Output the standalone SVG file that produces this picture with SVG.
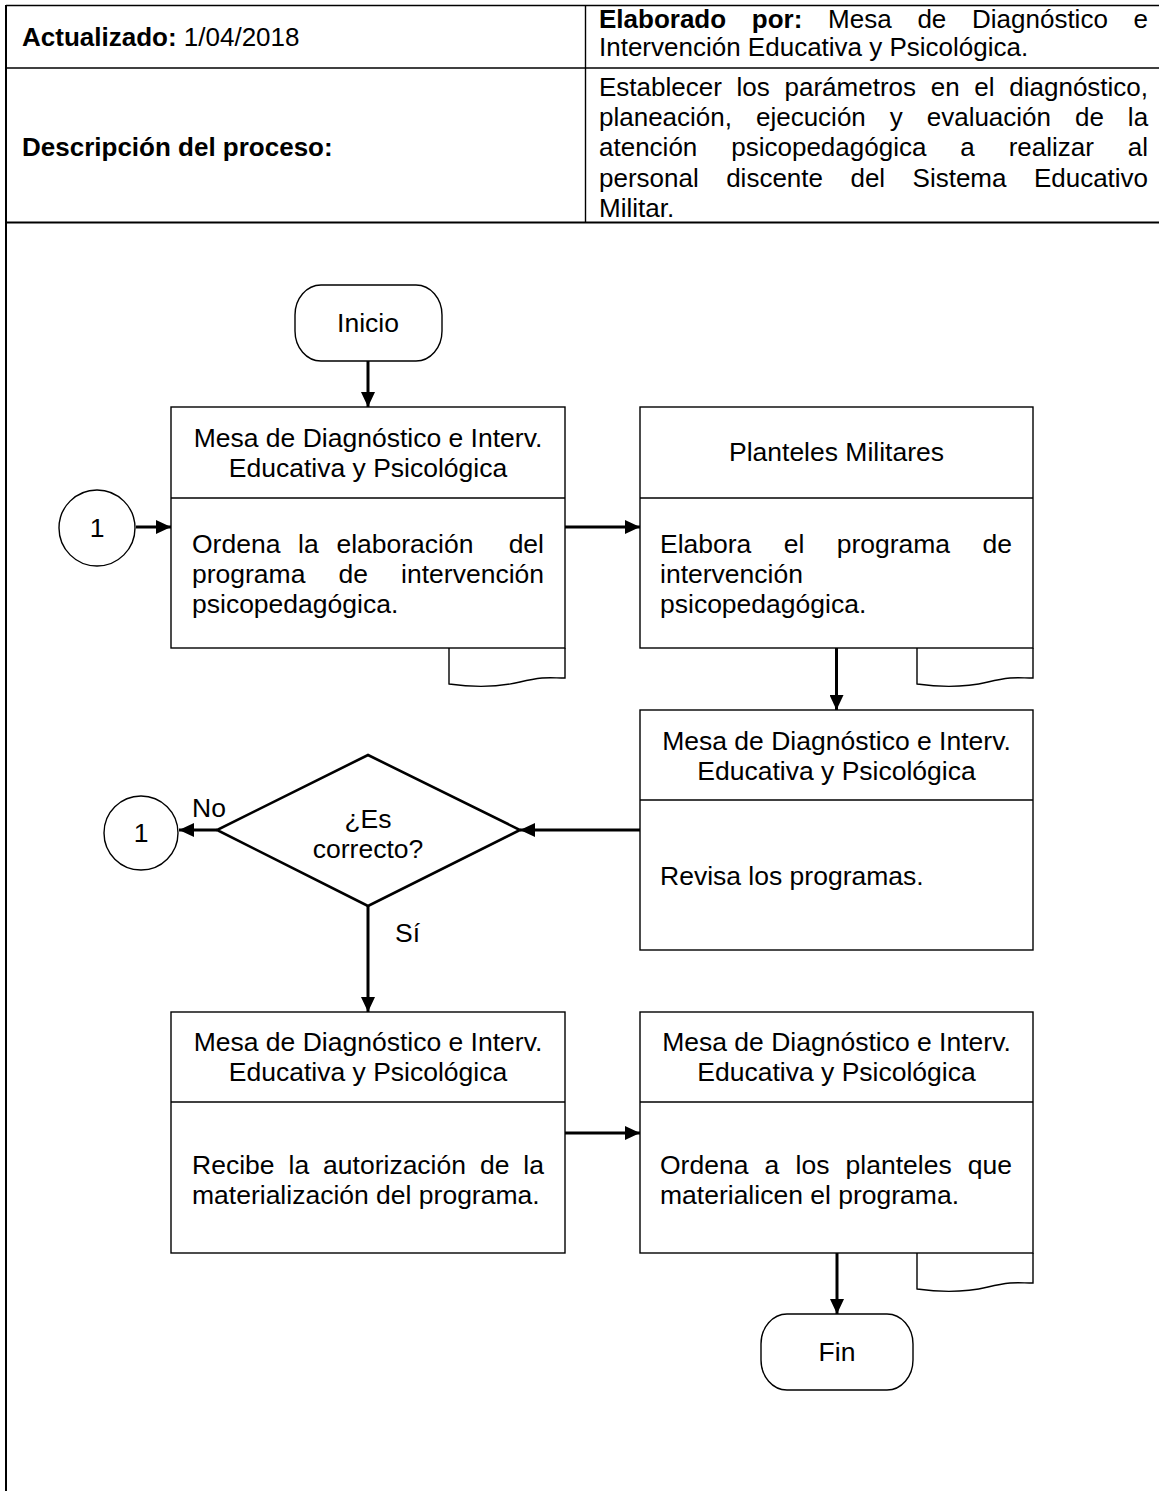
<svg xmlns="http://www.w3.org/2000/svg" width="1159" height="1491" viewBox="0 0 1159 1491">
<defs>
<style>
.t{font-family:"Liberation Sans",Arial,sans-serif;font-size:26px;fill:#000}
.f{font-family:"Liberation Sans",Arial,sans-serif;font-size:26.5px;fill:#000}
.b{font-weight:bold}
.m{text-anchor:middle}
.e{text-anchor:end}
.box{fill:#fff;stroke:#000;stroke-width:1.4}
.tab{fill:#fff;stroke:#000;stroke-width:1.4}
.dia{fill:#fff;stroke:#000;stroke-width:2.6}
.tl{stroke:#000;stroke-width:1.4;fill:none}
.arr{stroke:#000;stroke-width:3;fill:none;marker-end:url(#ah)}
</style>
<marker id="ah" viewBox="0 0 15 14" refX="15" refY="7" markerWidth="15" markerHeight="14" markerUnits="userSpaceOnUse" orient="auto">
<path d="M0,0 L15,7 L0,14 Z" fill="#000"/>
</marker>
</defs>
<rect width="1159" height="1491" fill="#fff"/>

<g id="header">
<line class="tl" x1="6" y1="5.5" x2="1159" y2="5.5"/>
<line class="tl" x1="6" y1="68" x2="1159" y2="68"/>
<line class="tl" x1="585.5" y1="5" x2="585.5" y2="222"/>
<line x1="6" y1="222.5" x2="1159" y2="222.5" stroke="#000" stroke-width="2"/>
<line x1="6" y1="5" x2="6" y2="1491" stroke="#000" stroke-width="2"/>
<text class="t" x="22" y="46"><tspan class="b">Actualizado:</tspan> 1/04/2018</text>
<text class="t b" x="22" y="156">Descripción del proceso:</text>
<text class="t" y="28"><tspan class="b" x="599">Elaborado</tspan><tspan class="b" x="751.8">por:</tspan><tspan x="828.1">Mesa</tspan><tspan x="917.4">de</tspan><tspan x="972">Diagnóstico</tspan><tspan x="1148" class="e">e</tspan></text>
<text class="t" x="599" y="56">Intervención Educativa y Psicológica.</text>
<text class="t" x="599" y="96" word-spacing="7.49">Establecer los parámetros en el diagnóstico,</text>
<text class="t" x="599" y="126" word-spacing="16.73">planeación, ejecución y evaluación de la</text>
<text class="t" x="599" y="156" word-spacing="26.7">atención psicopedagógica a realizar al</text>
<text class="t" x="599" y="187" word-spacing="20.2">personal discente del Sistema Educativo</text>
<text class="t" x="599" y="217">Militar.</text>
</g>

<g id="connectors">
<line class="arr" x1="368" y1="361" x2="368" y2="407"/>
<line class="arr" x1="136" y1="527" x2="171" y2="527"/>
<line class="arr" x1="565" y1="527" x2="640" y2="527"/>
<line class="arr" x1="836.5" y1="648" x2="836.5" y2="710"/>
<line class="arr" x1="640" y1="830" x2="520" y2="830"/>
<line class="arr" x1="217" y1="830" x2="179" y2="830"/>
<line class="arr" x1="368" y1="906" x2="368" y2="1012"/>
<line class="arr" x1="565" y1="1133" x2="640" y2="1133"/>
<line class="arr" x1="837" y1="1253" x2="837" y2="1314"/>
<text class="f" x="192" y="817">No</text>
<text class="f" x="395" y="942">Sí</text>
</g>

<g id="inicio">
<rect class="box" x="295" y="285" width="147" height="76" rx="26" ry="30"/>
<text class="f m" x="368" y="332">Inicio</text>
</g>

<g id="conector1a">
<circle class="box" cx="97" cy="528" r="38"/>
<text class="f m" x="97" y="537">1</text>
</g>

<g id="box1">
<path class="tab" d="M449,648 V684 C470,687 495,688 520,682 S550,678 565,678 V648"/>
<rect class="box" x="171" y="407" width="394" height="241"/>
<line class="tl" x1="171" y1="498" x2="565" y2="498"/>
<text class="f m" x="368" y="447">Mesa de Diagnóstico e Interv.</text>
<text class="f m" x="368" y="477">Educativa y Psicológica</text>
<text class="f" y="553"><tspan x="192">Ordena</tspan><tspan x="298.1">la</tspan><tspan x="336.4">elaboración</tspan><tspan x="544" class="e">del</tspan></text>
<text class="f" y="583"><tspan x="192">programa</tspan><tspan x="338.5">de</tspan><tspan x="544" class="e">intervención</tspan></text>
<text class="f" x="192" y="613">psicopedagógica.</text>
</g>

<g id="box2">
<path class="tab" d="M917,648 V684 C938,687 963,688 988,682 S1018,678 1033,678 V648"/>
<rect class="box" x="640" y="407" width="393" height="241"/>
<line class="tl" x1="640" y1="498" x2="1033" y2="498"/>
<text class="f m" x="836.5" y="461">Planteles Militares</text>
<text class="f" y="553"><tspan x="660">Elabora</tspan><tspan x="783.7">el</tspan><tspan x="836.7">programa</tspan><tspan x="1012" class="e">de</tspan></text>
<text class="f" x="660" y="583">intervención</text>
<text class="f" x="660" y="613">psicopedagógica.</text>
</g>

<g id="box3">
<rect class="box" x="640" y="710" width="393" height="240"/>
<line class="tl" x1="640" y1="800" x2="1033" y2="800"/>
<text class="f m" x="836.5" y="750">Mesa de Diagnóstico e Interv.</text>
<text class="f m" x="836.5" y="780">Educativa y Psicológica</text>
<text class="f" x="660" y="885">Revisa los programas.</text>
</g>

<g id="decision">
<polygon class="dia" points="368,755 520,830 368,906 217,830"/>
<text class="f m" x="368" y="828">¿Es</text>
<text class="f m" x="368" y="858">correcto?</text>
</g>

<g id="conector1b">
<circle class="box" cx="141" cy="833" r="37"/>
<text class="f m" x="141" y="842">1</text>
</g>

<g id="box4">
<rect class="box" x="171" y="1012" width="394" height="241"/>
<line class="tl" x1="171" y1="1102" x2="565" y2="1102"/>
<text class="f m" x="368" y="1051">Mesa de Diagnóstico e Interv.</text>
<text class="f m" x="368" y="1081">Educativa y Psicológica</text>
<text class="f" y="1174"><tspan x="192">Recibe</tspan><tspan x="288.5">la</tspan><tspan x="323.1">autorización</tspan><tspan x="480">de</tspan><tspan x="544" class="e">la</tspan></text>
<text class="f" x="192" y="1204">materialización del programa.</text>
</g>

<g id="box5">
<path class="tab" d="M917,1253 V1289 C938,1292 963,1293 988,1287 S1018,1283 1033,1283 V1253"/>
<rect class="box" x="640" y="1012" width="393" height="241"/>
<line class="tl" x1="640" y1="1102" x2="1033" y2="1102"/>
<text class="f m" x="836.5" y="1051">Mesa de Diagnóstico e Interv.</text>
<text class="f m" x="836.5" y="1081">Educativa y Psicológica</text>
<text class="f" y="1174"><tspan x="660">Ordena</tspan><tspan x="764.6">a</tspan><tspan x="795.5">los</tspan><tspan x="845.6">planteles</tspan><tspan x="1012" class="e">que</tspan></text>
<text class="f" x="660" y="1204">materialicen el programa.</text>
</g>

<g id="fin">
<rect class="box" x="761" y="1314" width="152" height="76" rx="26" ry="30"/>
<text class="f m" x="837" y="1361">Fin</text>
</g>
</svg>
